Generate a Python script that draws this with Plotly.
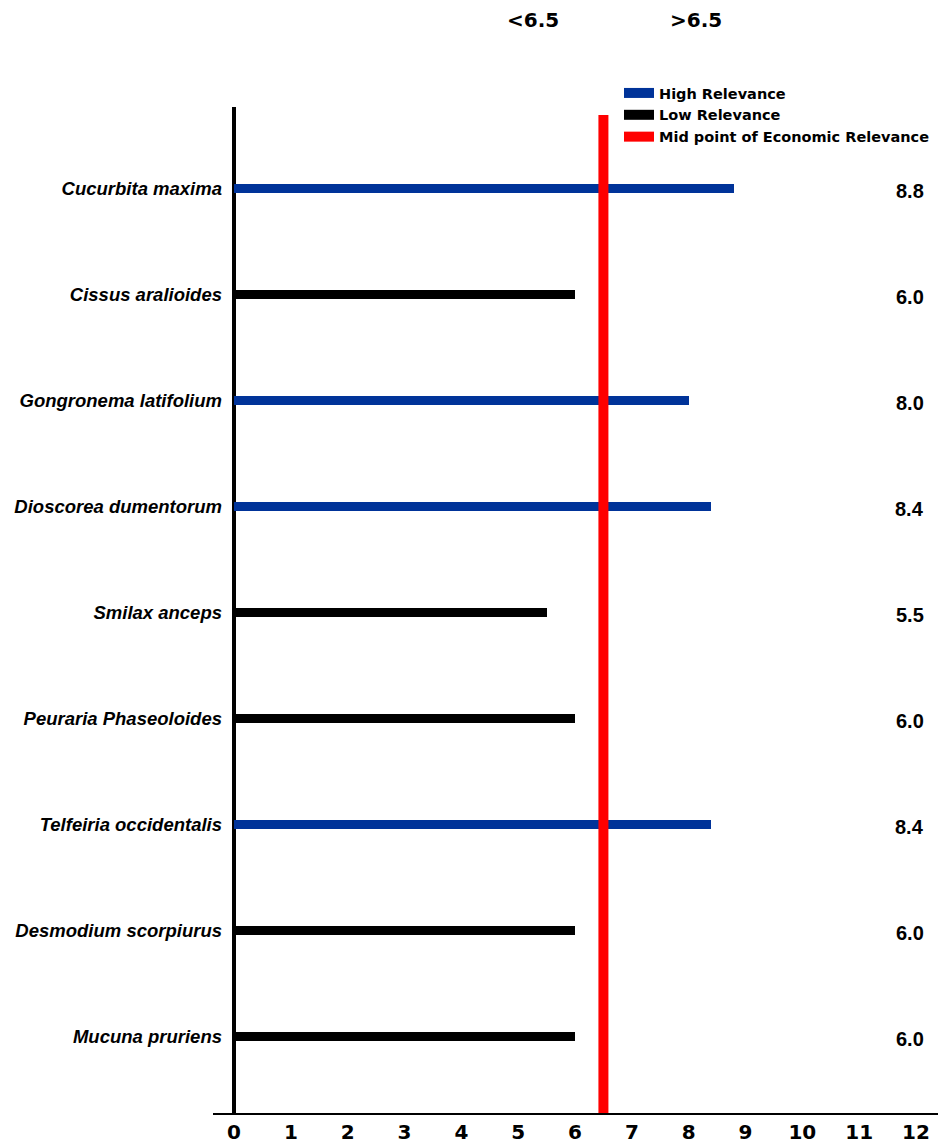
import plotly.graph_objects as go

# ---- data ----
species = ["Mucuna pruriens", "Desmodium scorpiurus", "Telfeiria occidentalis",
           "Peuraria Phaseoloides", "Smilax anceps", "Dioscorea dumentorum",
           "Gongronema latifolium", "Cissus aralioides", "Cucurbita maxima"]
scores = [6.0, 6.0, 8.4, 6.0, 5.5, 8.4, 8.0, 6.0, 8.8]
score_labels = ["6.0", "6.0", "8.4", "6.0", "5.5", "8.4", "8.0", "6.0", "8.8"]
midpoint = 6.5
x_ticks = list(range(0, 13))
x_tick_labels = [str(v) for v in x_ticks]
header_labels = ["<6.5", ">6.5"]
header_x = [5.26, 8.13]

BLUE = "#003399"
BLACK = "#000000"
RED = "#ff0000"
ARIAL = "Liberation Sans, Arial, sans-serif"
TAHOMA = "DejaVu Sans, Verdana, sans-serif"

high_y = [s for s, v in zip(species, scores) if v > midpoint]
high_x = [v for v in scores if v > midpoint]
low_y = [s for s, v in zip(species, scores) if v <= midpoint]
low_x = [v for v in scores if v <= midpoint]

fig = go.Figure()
fig.add_trace(go.Bar(y=high_y, x=high_x, orientation="h", marker=dict(color=BLUE, line=dict(width=0)),
                     width=0.085, showlegend=False, hoverinfo="x+y"))
fig.add_trace(go.Bar(y=low_y, x=low_x, orientation="h", marker=dict(color=BLACK, line=dict(width=0)),
                     width=0.085, showlegend=False, hoverinfo="x+y"))

# legend entries
for name, col in [("High Relevance", BLUE), ("Low Relevance", BLACK),
                  ("Mid point of Economic Relevance", RED)]:
    fig.add_trace(go.Scatter(x=[None], y=[None], mode="lines", name="<b>%s</b>" % name,
                             line=dict(color=col, width=10)))

# midpoint line
fig.add_shape(type="line", xref="x", yref="paper", x0=midpoint, x1=midpoint, y0=0, y1=0.992,
              line=dict(color=RED, width=10), layer="above")

# value labels on the right
for s, lab in zip(species, score_labels):
    fig.add_annotation(x=1, xref="paper", y=s, yref="y", text="<b>%s</b>" % lab,
                       showarrow=False, xanchor="right", yanchor="middle", xshift=-12, yshift=-2,
                       font=dict(family=ARIAL, size=20, color="black"))

# header labels
for txt, xp in zip(header_labels, header_x):
    fig.add_annotation(x=xp, xref="x", y=1 + (107 - 20) / 1006.0, yref="paper",
                       text="<b>%s</b>" % txt, showarrow=False, xanchor="center", yanchor="middle",
                       font=dict(family=TAHOMA, size=20, color="black"))

fig.update_layout(
    width=938, height=1143,
    margin=dict(l=213, r=0, t=107, b=30),
    plot_bgcolor="white", paper_bgcolor="white",
    bargap=0,
    xaxis=dict(range=[-0.3695, 12.387], tickvals=x_ticks, ticktext=["<b>%s</b>" % t for t in x_tick_labels],
               showgrid=False, zeroline=True, zerolinecolor="black", zerolinewidth=4,
               showline=True, linecolor="black", linewidth=2, ticks="",
               tickfont=dict(family=TAHOMA, size=20, color="black")),
    yaxis=dict(range=[-0.72, 8.77], type="category", categoryorder="array", categoryarray=species,
               showgrid=False, zeroline=False, showline=False, ticks="",
               ticklabelstandoff=-10,
               ticktext=["<b><i>%s</i></b>" % s for s in species], tickvals=species,
               tickfont=dict(family=ARIAL, size=18.5, color="black")),
    legend=dict(x=0.56, y=1.0298, xanchor="left", yanchor="top", bgcolor="rgba(0,0,0,0)",
                font=dict(family=TAHOMA, size=14.5, color="black"), tracegroupgap=0,
                itemwidth=30),
    font=dict(family=ARIAL),
)

fig.write_html("out.html")
